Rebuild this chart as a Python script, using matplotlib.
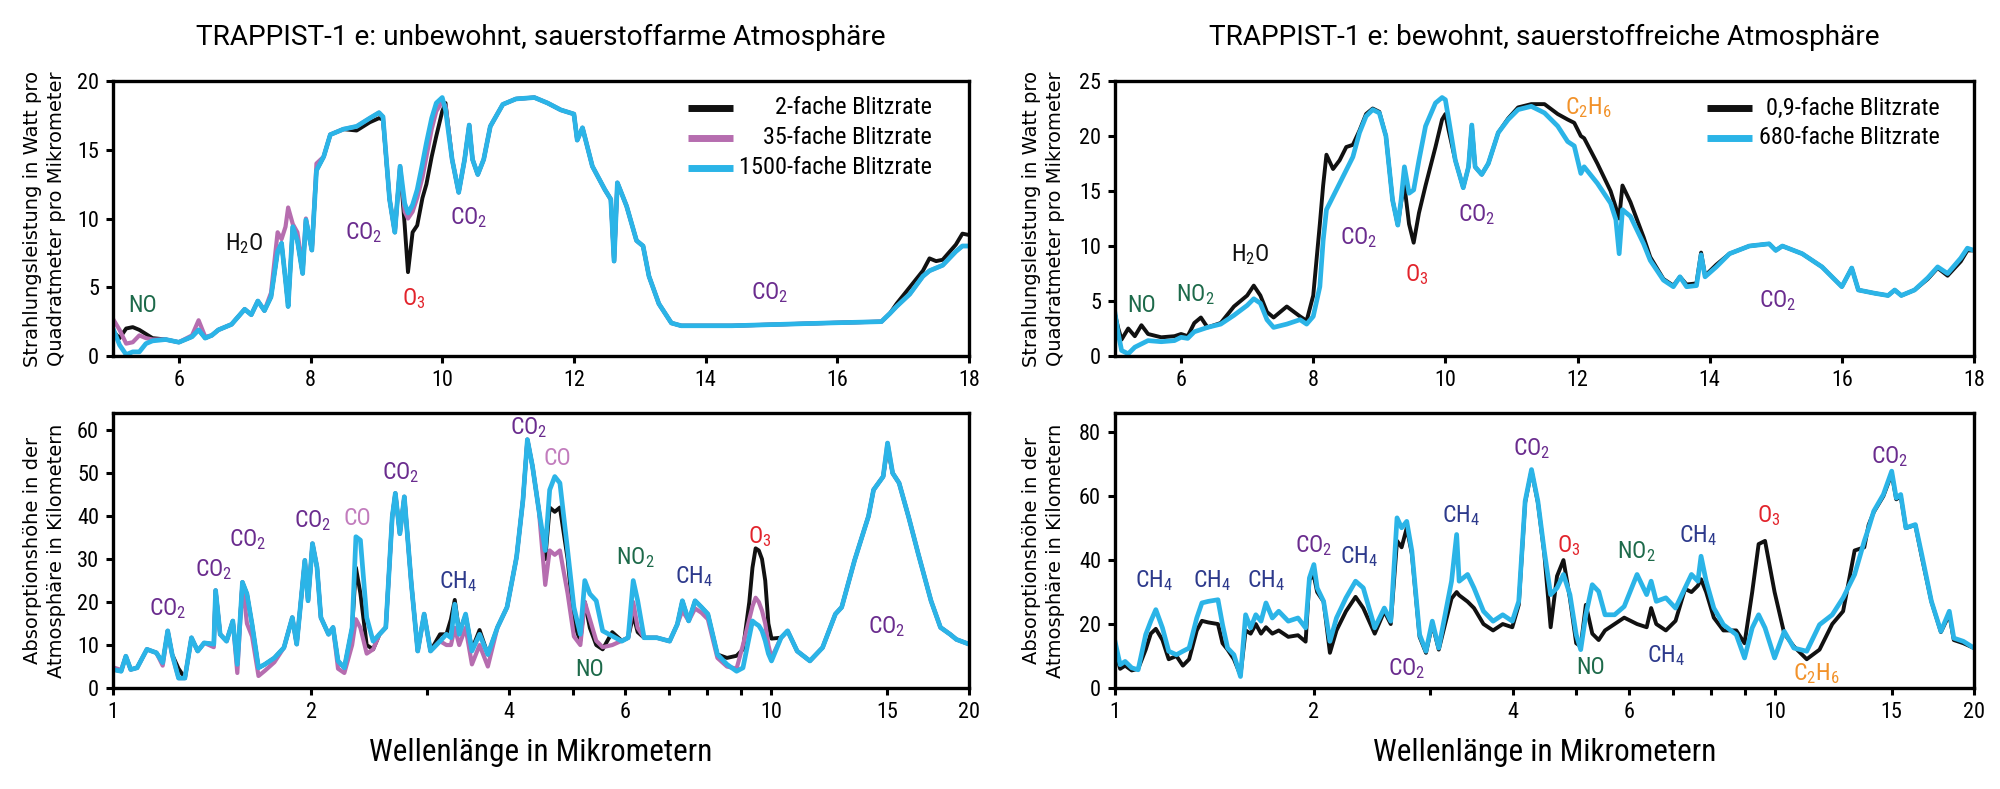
import matplotlib
matplotlib.use('Agg')
import matplotlib.pyplot as plt
from matplotlib.lines import Line2D
from matplotlib.ticker import NullFormatter

NARROW = ['Roboto Condensed', 'Liberation Sans Narrow', 'Roboto', 'DejaVu Sans']
plt.rcParams['font.family'] = NARROW
plt.rcParams['mathtext.default'] = 'regular'

BLACK = '#111111'
PINK = '#B66DAF'
BLUE = '#2BB4E7'
C_CO2 = '#6A2C8E'
C_O3 = '#E2232B'
C_NO = '#1D6A4A'
C_CH4 = '#2D3A8C'
C_C2H6 = '#F2922A'
C_CO = '#C27CBD'
C_H2O = '#111111'

# ---------------- top left: unbewohnt, emission 5-18 um
wl_tl = [5.0, 5.1, 5.2, 5.3, 5.4, 5.5, 5.6, 5.8, 6.0, 6.2,
         6.3, 6.4, 6.5, 6.6, 6.8, 7.0, 7.1, 7.2, 7.3, 7.4,
         7.5, 7.56, 7.62, 7.66, 7.73, 7.8, 7.88, 7.93, 8.02, 8.09,
         8.2, 8.3, 8.5, 8.7, 8.9, 9.04, 9.1, 9.2, 9.28, 9.36,
         9.43, 9.48, 9.55, 9.62, 9.7, 9.76, 9.84, 9.91, 10.0, 10.05,
         10.15, 10.25, 10.34, 10.41, 10.46, 10.54, 10.63, 10.73, 10.92, 11.12,
         11.4, 11.6, 11.8, 12.0, 12.05, 12.13, 12.28, 12.47, 12.56, 12.61,
         12.66, 12.8, 12.95, 13.05, 13.14, 13.29, 13.48, 13.63, 14.4, 15.85,
         16.67, 16.8, 16.9, 17.1, 17.3, 17.4, 17.5, 17.6, 17.8, 17.9,
         18.0]
em_tl_1500 = [2.0, 0.8, 0.1, 0.3, 0.3, 0.9, 1.1, 1.2, 1.0, 1.4,
              1.9, 1.3, 1.5, 1.9, 2.3, 3.4, 3.0, 4.0, 3.3, 4.3,
              7.6, 8.2, 5.5, 3.6, 9.4, 8.4, 6.0, 9.9, 7.7, 13.5,
              14.5, 16.1, 16.5, 16.7, 17.3, 17.7, 17.4, 11.4, 9.0, 13.8,
              11.1, 10.4, 11.0, 12.1, 14.0, 15.5, 17.3, 18.4, 18.8, 17.9,
              14.3, 11.9, 14.3, 16.8, 14.3, 13.2, 14.3, 16.7, 18.3, 18.7,
              18.8, 18.4, 17.9, 17.6, 15.7, 16.6, 13.8, 12.1, 11.4, 6.9,
              12.6, 10.9, 8.4, 8.0, 5.8, 3.8, 2.4, 2.2, 2.2, 2.4,
              2.5, 3.1, 3.6, 4.5, 5.8, 6.2, 6.4, 6.6, 7.6, 8.0,
              8.0]
em_tl_2 = [1.8, 1.3, 2.0, 2.1, 1.9, 1.6, 1.3, 1.2, 1.0, 1.4,
           1.9, 1.3, 1.5, 1.9, 2.3, 3.4, 3.0, 4.0, 3.3, 4.3,
           7.6, 8.2, 5.5, 3.6, 9.4, 8.4, 6.0, 9.9, 7.7, 13.5,
           14.5, 16.1, 16.5, 16.4, 17.0, 17.3, 17.2, 11.4, 9.0, 13.8,
           9.5, 6.1, 9.0, 9.5, 11.5, 12.5, 14.5, 16.0, 17.8, 18.4,
           14.3, 11.9, 14.3, 16.8, 14.3, 13.2, 14.3, 16.7, 18.3, 18.7,
           18.8, 18.4, 17.9, 17.6, 15.7, 16.6, 13.8, 12.1, 11.4, 6.9,
           12.6, 10.9, 8.4, 8.0, 5.8, 3.8, 2.4, 2.2, 2.2, 2.4,
           2.5, 3.1, 3.8, 5.0, 6.2, 7.1, 6.9, 7.0, 8.1, 8.9,
           8.8]
em_tl_35 = [2.7, 1.9, 0.9, 1.0, 1.5, 1.3, 1.2, 1.2, 1.0, 1.5,
            2.6, 1.4, 1.5, 1.9, 2.3, 3.4, 3.0, 4.0, 3.3, 4.6,
            9.0, 8.5, 9.4, 10.8, 9.6, 9.0, 6.5, 10.0, 7.7, 14.0,
            14.5, 16.1, 16.5, 16.7, 17.3, 17.7, 17.4, 11.4, 9.0, 13.8,
            10.5, 10.0, 10.5, 11.5, 13.0, 14.5, 16.5, 17.8, 18.5, 18.2,
            14.3, 11.9, 14.3, 16.8, 14.3, 13.2, 14.3, 16.7, 18.3, 18.7,
            18.8, 18.4, 17.9, 17.6, 15.7, 16.6, 13.8, 12.1, 11.4, 6.9,
            12.6, 10.9, 8.4, 8.0, 5.8, 3.8, 2.4, 2.2, 2.2, 2.4,
            2.5, 3.1, 3.6, 4.5, 5.8, 6.2, 6.4, 6.6, 7.6, 8.0,
            8.0]

# ---------------- top right: bewohnt, emission 5-18 um
wl_tr = [5.0, 5.05, 5.1, 5.2, 5.3, 5.4, 5.5, 5.7, 5.9, 6.0,
         6.1, 6.2, 6.3, 6.4, 6.6, 6.8, 7.0, 7.1, 7.2, 7.3,
         7.4, 7.6, 7.8, 7.9, 8.0, 8.1, 8.15, 8.2, 8.3, 8.4,
         8.5, 8.6, 8.7, 8.8, 8.9, 9.0, 9.1, 9.2, 9.28, 9.33,
         9.38, 9.45, 9.52, 9.6, 9.7, 9.85, 9.95, 10.0, 10.05, 10.15,
         10.27, 10.35, 10.4, 10.45, 10.55, 10.65, 10.8, 10.95, 11.1, 11.3,
         11.5, 11.7, 11.85, 11.95, 12.05, 12.1, 12.3, 12.5, 12.58, 12.63,
         12.68, 12.8, 13.0, 13.1, 13.3, 13.45, 13.55, 13.65, 13.8, 13.87,
         13.93, 14.1, 14.3, 14.6, 14.9, 15.0, 15.1, 15.4, 15.7, 16.0,
         16.15, 16.25, 16.5, 16.7, 16.8, 16.9, 17.1, 17.3, 17.45, 17.6,
         17.8, 17.9, 18.0]
em_tr_680 = [3.9, 2.0, 0.5, 0.2, 0.8, 1.1, 1.4, 1.3, 1.4, 1.7,
             1.6, 2.2, 2.4, 2.6, 2.9, 3.7, 4.6, 5.2, 4.8, 3.3,
             2.6, 2.9, 3.3, 2.9, 3.6, 6.3, 10.5, 13.3, 14.5, 15.7,
             16.9, 18.1, 20.3, 21.8, 22.4, 22.1, 20.0, 14.2, 11.9, 14.2,
             17.2, 14.8, 15.1, 17.8, 20.9, 23.0, 23.5, 23.3, 21.5, 17.8,
             15.3, 17.2, 21.0, 17.2, 16.5, 17.5, 20.3, 21.5, 22.4, 22.7,
             22.1, 20.9, 19.5, 19.1, 16.6, 17.2, 15.7, 13.9, 12.4, 9.3,
             13.3, 12.7, 10.2, 8.7, 6.9, 6.3, 7.2, 6.3, 6.4, 9.2,
             7.2, 8.1, 9.3, 10.0, 10.2, 9.6, 10.0, 9.3, 8.1, 6.3,
             8.0, 6.0, 5.7, 5.5, 6.0, 5.5, 6.0, 7.1, 8.1, 7.5,
             8.9, 9.8, 9.6]
em_tr_09 = [3.8, 2.5, 1.5, 2.5, 1.8, 2.8, 2.0, 1.7, 1.8, 2.0,
            1.8, 3.0, 3.5, 2.6, 3.0, 4.5, 5.5, 6.4, 5.5, 4.0,
            3.5, 4.5, 3.6, 3.2, 5.5, 12.0, 15.5, 18.3, 17.0, 17.8,
            19.0, 19.2, 20.5, 22.0, 22.5, 22.2, 20.0, 14.2, 11.9, 14.0,
            15.5, 12.0, 10.3, 13.0, 15.5, 19.0, 21.5, 22.0, 20.5, 17.8,
            15.3, 17.2, 21.0, 17.2, 16.5, 17.5, 20.3, 21.6, 22.6, 22.9,
            22.9, 22.0, 21.5, 21.2, 20.0, 19.8, 17.5, 15.0, 13.5, 12.5,
            15.5, 14.0, 10.8, 9.0, 7.0, 6.4, 7.2, 6.5, 6.6, 9.4,
            7.3, 8.3, 9.3, 10.0, 10.2, 9.6, 10.0, 9.3, 8.1, 6.3,
            8.0, 6.0, 5.7, 5.5, 6.0, 5.5, 6.0, 7.0, 8.0, 7.3,
            8.6, 9.6, 9.6]

# ---------------- bottom left: unbewohnt, absorption height 1-20 um
wl_bl = [1.000, 1.029, 1.046, 1.064, 1.088, 1.126, 1.164, 1.190, 1.211, 1.230,
         1.258, 1.286, 1.316, 1.345, 1.376, 1.423, 1.432, 1.455, 1.488, 1.521,
         1.545, 1.573, 1.598, 1.627, 1.664, 1.701, 1.759, 1.819, 1.873, 1.902,
         1.957, 1.979, 2.010, 2.042, 2.070, 2.126, 2.160, 2.198, 2.247, 2.309,
         2.340, 2.377, 2.430, 2.485, 2.541, 2.598, 2.657, 2.686, 2.729, 2.772,
         2.841, 2.905, 2.971, 3.038, 3.141, 3.212, 3.263, 3.307, 3.359, 3.435,
         3.512, 3.607, 3.713, 3.840, 3.971, 4.106, 4.199, 4.264, 4.341, 4.439,
         4.539, 4.610, 4.693, 4.778, 4.909, 5.018, 5.132, 5.213, 5.306, 5.426,
         5.549, 5.738, 5.933, 6.067, 6.176, 6.273, 6.415, 6.708, 7.015, 7.205,
         7.335, 7.499, 7.669, 7.843, 8.020, 8.292, 8.574, 8.867, 9.067, 9.270,
         9.374, 9.478, 9.585, 9.692, 9.802, 9.911, 10.02, 10.36, 10.60, 10.96,
         11.46, 11.98, 12.53, 12.81, 13.40, 13.85, 14.07, 14.32, 14.81, 15.04,
         15.31, 15.66, 16.19, 16.74, 17.51, 18.10, 18.72, 19.14, 20.00]
h_bl_1500 = [4.3, 3.9, 7.4, 4.3, 4.7, 9.0, 8.2, 5.9, 13.3, 7.8,
             2.3, 2.3, 11.7, 8.6, 10.5, 10.2, 22.7, 12.5, 10.9, 15.6,
             5.5, 24.6, 21.9, 14.8, 4.7, 5.5, 7.0, 9.4, 16.4, 10.2,
             29.7, 20.3, 33.6, 28.1, 16.4, 12.5, 14.1, 6.3, 4.7, 14.1,
             35.2, 34.4, 16.4, 10.9, 12.5, 14.1, 39.8, 45.3, 35.9, 44.5,
             24.2, 8.6, 17.2, 8.6, 10.9, 12.5, 11.7, 19.5, 12.5, 17.2,
             8.6, 12.5, 7.8, 14.1, 18.8, 30.5, 43.8, 57.8, 51.6, 41.4,
             32.0, 46.1, 49.2, 47.7, 32.0, 18.8, 12.5, 25.0, 21.9, 20.3,
             13.3, 12.1, 10.9, 11.7, 25.0, 20.3, 11.7, 11.7, 10.9, 14.8,
             20.3, 15.6, 20.3, 18.8, 17.2, 7.8, 5.5, 3.9, 4.7, 12.0,
             15.6, 15.0, 14.5, 13.3, 11.0, 8.0, 6.3, 11.7, 13.3, 8.6,
             6.3, 9.4, 17.2, 18.8, 29.7, 36.7, 40.0, 46.1, 49.2, 57.0,
             50.0, 47.7, 39.8, 31.3, 20.3, 14.1, 12.5, 11.3, 10.2]
h_bl_2 = [4.3, 3.9, 7.4, 4.3, 4.7, 9.0, 8.2, 5.9, 13.3, 7.8,
          4.5, 2.3, 11.7, 8.6, 10.5, 10.2, 22.7, 12.5, 10.9, 15.6,
          5.5, 24.6, 21.9, 14.8, 4.7, 5.5, 7.0, 9.4, 16.4, 10.2,
          29.7, 20.3, 33.6, 28.1, 16.4, 12.5, 14.1, 6.3, 4.7, 14.0,
          28.0, 22.0, 10.0, 9.0, 12.5, 14.1, 39.8, 45.3, 35.9, 44.5,
          24.2, 8.6, 17.2, 8.6, 12.5, 12.5, 16.0, 20.5, 13.0, 17.0,
          9.0, 13.5, 7.8, 14.1, 18.8, 30.5, 43.8, 57.8, 51.6, 41.4,
          30.0, 42.0, 41.0, 42.0, 30.0, 15.0, 11.0, 20.0, 14.0, 10.0,
          9.0, 13.0, 11.0, 11.7, 17.0, 13.0, 11.7, 11.7, 10.9, 14.8,
          20.3, 15.6, 20.3, 18.8, 17.2, 7.8, 7.0, 7.5, 9.0, 20.0,
          28.0, 32.5, 32.0, 30.0, 25.0, 15.0, 11.5, 11.7, 13.3, 8.6,
          6.3, 9.4, 17.2, 18.8, 29.7, 36.7, 40.0, 46.1, 49.2, 56.0,
          50.0, 47.7, 39.8, 31.3, 20.3, 14.1, 12.5, 11.3, 10.2]
h_bl_35 = [4.8, 4.2, 7.4, 4.3, 4.7, 9.0, 8.2, 5.2, 13.3, 7.8,
           2.3, 2.3, 11.7, 8.6, 10.5, 9.5, 22.7, 12.5, 10.9, 15.6,
           3.5, 24.6, 15.0, 12.0, 2.8, 4.0, 6.0, 9.4, 16.4, 10.2,
           29.7, 20.3, 33.6, 28.1, 16.4, 12.5, 14.1, 4.5, 3.5, 10.0,
           16.0, 14.0, 8.0, 9.0, 12.5, 14.1, 39.8, 45.3, 35.9, 44.5,
           24.2, 8.6, 17.2, 8.6, 10.9, 10.0, 10.0, 14.0, 10.0, 14.0,
           5.5, 10.0, 5.0, 14.1, 18.8, 30.5, 43.8, 57.8, 51.6, 41.4,
           24.0, 32.0, 31.0, 32.0, 22.0, 12.0, 10.0, 20.0, 16.0, 11.0,
           9.5, 10.0, 11.0, 11.7, 20.0, 14.0, 11.7, 11.7, 10.9, 14.8,
           18.0, 15.6, 18.5, 17.5, 16.0, 7.0, 5.0, 4.5, 10.0, 16.0,
           19.0, 21.0, 20.0, 18.0, 15.0, 10.0, 7.0, 11.7, 13.3, 8.6,
           6.3, 9.4, 17.2, 18.8, 29.7, 36.7, 40.0, 46.1, 49.2, 57.0,
           50.0, 47.7, 39.8, 31.3, 20.3, 14.1, 12.5, 11.3, 10.2]

# ---------------- bottom right: bewohnt, absorption height 1-20 um
wl_br = [1.000, 1.018, 1.036, 1.060, 1.084, 1.113, 1.133, 1.153, 1.180, 1.206,
         1.239, 1.267, 1.295, 1.330, 1.354, 1.385, 1.432, 1.455, 1.481, 1.514,
         1.549, 1.577, 1.605, 1.634, 1.664, 1.693, 1.731, 1.770, 1.830, 1.893,
         1.944, 1.970, 2.001, 2.024, 2.070, 2.116, 2.165, 2.238, 2.314, 2.377,
         2.474, 2.558, 2.616, 2.674, 2.717, 2.766, 2.816, 2.893, 2.958, 3.024,
         3.093, 3.162, 3.234, 3.292, 3.321, 3.420, 3.497, 3.615, 3.738, 3.866,
         3.997, 4.088, 4.180, 4.274, 4.370, 4.469, 4.569, 4.672, 4.778, 4.887,
         4.995, 5.074, 5.166, 5.283, 5.402, 5.523, 5.711, 5.905, 6.176, 6.386,
         6.487, 6.604, 6.829, 7.063, 7.302, 7.467, 7.635, 7.720, 7.859, 8.072,
         8.346, 8.728, 8.985, 9.228, 9.437, 9.650, 9.977, 10.32, 10.67, 11.16,
         11.67, 12.20, 12.67, 13.19, 13.64, 13.85, 14.10, 14.58, 15.01, 15.25,
         15.49, 15.77, 16.30, 16.67, 17.24, 17.82, 18.35, 18.64, 19.27, 20.00]
h_br_680 = [14.6, 7.3, 8.3, 6.3, 5.7, 16.7, 20.9, 24.5, 18.8, 11.5,
            10.4, 11.5, 12.5, 21.9, 26.6, 27.1, 27.6, 19.8, 12.5, 10.4,
            3.6, 22.9, 18.8, 22.9, 20.9, 26.6, 21.9, 24.0, 20.9, 21.9,
            18.8, 34.4, 38.6, 31.3, 27.1, 14.6, 21.9, 28.2, 33.4, 31.3,
            18.8, 25.0, 20.9, 53.2, 50.1, 52.1, 42.8, 16.7, 11.5, 20.9,
            12.5, 22.9, 33.4, 48.0, 33.4, 35.5, 31.3, 24.0, 20.9, 22.9,
            20.9, 27.1, 58.4, 68.3, 58.4, 42.8, 29.2, 31.3, 35.5, 29.2,
            16.7, 12.0, 22.9, 32.3, 30.2, 22.9, 22.9, 25.5, 35.5, 29.2,
            33.4, 27.1, 28.2, 25.0, 31.3, 35.5, 33.4, 41.2, 33.4, 25.0,
            19.8, 16.7, 9.4, 18.8, 22.9, 18.8, 9.4, 17.7, 12.5, 11.5,
            19.8, 22.9, 28.2, 35.5, 45.9, 50.0, 55.3, 60.5, 67.8, 59.4,
            60.5, 50.1, 51.1, 41.7, 27.1, 17.7, 24.0, 15.6, 14.6, 12.5]
h_br_09 = [12.0, 6.0, 7.0, 5.5, 6.0, 12.0, 17.0, 18.5, 15.0, 9.0,
           10.0, 7.0, 9.0, 18.0, 21.0, 20.5, 20.0, 14.0, 12.0, 9.0,
           4.0, 18.0, 17.0, 20.0, 17.0, 19.0, 17.0, 18.0, 16.0, 16.5,
           14.5, 34.0, 35.0, 30.0, 27.0, 11.0, 18.0, 24.0, 28.5, 25.0,
           17.0, 24.0, 20.0, 46.0, 44.0, 50.0, 42.0, 16.0, 11.0, 20.0,
           12.0, 20.0, 28.0, 30.0, 29.0, 27.0, 25.0, 20.0, 18.0, 20.0,
           19.0, 26.0, 58.0, 68.0, 58.0, 42.0, 19.0, 35.0, 40.0, 28.0,
           14.0, 13.0, 26.0, 17.0, 15.0, 18.0, 20.0, 22.0, 20.0, 19.0,
           25.0, 20.0, 18.0, 21.0, 31.0, 30.0, 32.0, 34.0, 30.0, 22.0,
           18.0, 18.0, 14.0, 30.0, 45.0, 46.0, 30.0, 17.0, 13.0, 9.0,
           12.0, 20.0, 24.0, 43.0, 44.0, 51.0, 55.0, 60.0, 67.0, 59.0,
           60.0, 50.0, 51.0, 41.0, 27.0, 17.5, 23.0, 15.0, 14.0, 12.5]

# molecule labels: (text, wavelength, value, colour)
labels_tl = [('NO', 5.45, 3.7, C_NO), ('H$_2$O', 7.0, 8.2, C_H2O),
             ('CO$_2$', 8.8, 9.0, C_CO2), ('O$_3$', 9.57, 4.2, C_O3),
             ('CO$_2$', 10.4, 10.1, C_CO2), ('CO$_2$', 14.98, 4.6, C_CO2)]
labels_tr = [('NO', 5.4, 4.6, C_NO), ('NO$_2$', 6.22, 5.6, C_NO),
             ('H$_2$O', 7.04, 9.2, C_H2O), ('CO$_2$', 8.69, 10.8, C_CO2),
             ('O$_3$', 9.56, 7.4, C_O3), ('CO$_2$', 10.48, 12.9, C_CO2),
             ('C$_2$H$_6$', 12.17, 22.6, C_C2H6), ('CO$_2$', 15.03, 5.0, C_CO2)]
labels_bl = [('CO$_2$', 1.21, 18.5, C_CO2), ('CO$_2$', 1.42, 27.5, C_CO2),
             ('CO$_2$', 1.60, 34.5, C_CO2), ('CO$_2$', 2.01, 39.0, C_CO2),
             ('CO', 2.35, 39.5, C_CO), ('CO$_2$', 2.74, 50.2, C_CO2),
             ('CH$_4$', 3.34, 24.8, C_CH4), ('CO$_2$', 4.29, 60.6, C_CO2),
             ('CO', 4.73, 53.5, C_CO), ('NO', 5.30, 4.3, C_NO),
             ('NO$_2$', 6.23, 30.3, C_NO), ('CH$_4$', 7.63, 26.0, C_CH4),
             ('O$_3$', 9.63, 35.3, C_O3), ('CO$_2$', 14.97, 14.3, C_CO2)]
labels_br = [('CH$_4$', 1.146, 33.7, C_CH4), ('CH$_4$', 1.40, 33.7, C_CH4),
             ('CH$_4$', 1.69, 33.7, C_CH4), ('CO$_2$', 2.00, 44.6, C_CO2),
             ('CH$_4$', 2.34, 41.0, C_CH4), ('CO$_2$', 2.77, 6.1, C_CO2),
             ('CH$_4$', 3.34, 54.0, C_CH4), ('CO$_2$', 4.27, 74.9, C_CO2),
             ('O$_3$', 4.86, 44.6, C_O3), ('NO', 5.26, 6.3, C_NO),
             ('NO$_2$', 6.17, 42.6, C_NO), ('CH$_4$', 7.63, 47.8, C_CH4),
             ('CH$_4$', 6.83, 10.2, C_CH4), ('O$_3$', 9.76, 54.0, C_O3),
             ('C$_2$H$_6$', 11.53, 4.5, C_C2H6), ('CO$_2$', 14.91, 72.3, C_CO2)]

legend_tl = ['2-fache Blitzrate', '35-fache Blitzrate', '1500-fache Blitzrate']
legend_tr = ['0,9-fache Blitzrate', '680-fache Blitzrate']

fig = plt.figure(figsize=(20, 7.89), dpi=100)
ax_tl = fig.add_axes([0.0565, 0.5488, 0.428, 0.3485])
ax_bl = fig.add_axes([0.0565, 0.1280, 0.428, 0.3486])
ax_tr = fig.add_axes([0.5575, 0.5488, 0.4295, 0.3485])
ax_br = fig.add_axes([0.5575, 0.1280, 0.4295, 0.3486])


def frame(ax):
    for s in ax.spines.values():
        s.set_linewidth(2.4)
    ax.tick_params(which='both', direction='out', length=5, width=2.2,
                   labelsize=16, pad=5)


def put_labels(ax, items):
    for txt, x, y, c in items:
        ax.text(x, y, txt, color=c, fontsize=17, ha='center', va='center')


def put_legend(ax, names, colors, x0, x1, xt):
    for i, (name, c) in enumerate(zip(names, colors)):
        yy = 0.902 - i * 0.109
        ax.add_line(Line2D([x0, x1], [yy, yy], transform=ax.transAxes,
                           color=c, lw=5, solid_capstyle='butt'))
        ax.text(xt, yy, name, transform=ax.transAxes, ha='right', va='center',
                fontsize=17.5)


LW_BLACK, LW_PINK, LW_BLUE = 2.8, 3.0, 3.4

# top left
ax_tl.plot(wl_tl, em_tl_2, color=BLACK, lw=LW_BLACK)
ax_tl.plot(wl_tl, em_tl_35, color=PINK, lw=LW_PINK)
ax_tl.plot(wl_tl, em_tl_1500, color=BLUE, lw=LW_BLUE)
ax_tl.set_xlim(5, 18)
ax_tl.set_ylim(0, 20)
ax_tl.set_xticks([6, 8, 10, 12, 14, 16, 18])
ax_tl.set_yticks([0, 5, 10, 15, 20])
put_labels(ax_tl, labels_tl)
put_legend(ax_tl, legend_tl, [BLACK, PINK, BLUE], 0.672, 0.724, 0.957)

# top right
ax_tr.plot(wl_tr, em_tr_09, color=BLACK, lw=LW_BLACK)
ax_tr.plot(wl_tr, em_tr_680, color=BLUE, lw=LW_BLUE)
ax_tr.set_xlim(5, 18)
ax_tr.set_ylim(0, 25)
ax_tr.set_xticks([6, 8, 10, 12, 14, 16, 18])
ax_tr.set_yticks([0, 5, 10, 15, 20, 25])
put_labels(ax_tr, labels_tr)
put_legend(ax_tr, legend_tr, [BLACK, BLUE], 0.689, 0.742, 0.960)

# bottom left
ax_bl.plot(wl_bl, h_bl_2, color=BLACK, lw=LW_BLACK)
ax_bl.plot(wl_bl, h_bl_35, color=PINK, lw=LW_PINK)
ax_bl.plot(wl_bl, h_bl_1500, color=BLUE, lw=LW_BLUE)
ax_bl.set_ylim(0, 64)
ax_bl.set_yticks([0, 10, 20, 30, 40, 50, 60])
put_labels(ax_bl, labels_bl)

# bottom right
ax_br.plot(wl_br, h_br_09, color=BLACK, lw=LW_BLACK)
ax_br.plot(wl_br, h_br_680, color=BLUE, lw=LW_BLUE)
ax_br.set_ylim(0, 86)
ax_br.set_yticks([0, 20, 40, 60, 80])
put_labels(ax_br, labels_br)

for ax in (ax_bl, ax_br):
    ax.set_xscale('log')
    ax.set_xlim(1, 20)
    ax.set_xticks([1, 2, 4, 6, 10, 15, 20], labels=['1', '2', '4', '6', '10', '15', '20'])
    ax.set_xticks([3, 5, 7, 8, 9], minor=True)
    ax.xaxis.set_minor_formatter(NullFormatter())
    ax.set_xlabel('Wellenlänge in Mikrometern', fontsize=22.5, va='center')
    ax.xaxis.set_label_coords(0.5, -0.236)

ylab_kw = dict(fontsize=14, family='DejaVu Sans', va='center', linespacing=1.3)
ax_tl.set_ylabel('Strahlungsleistung in Watt pro\nQuadratmeter pro Mikrometer', **ylab_kw)
ax_tr.set_ylabel('Strahlungsleistung in Watt pro\nQuadratmeter pro Mikrometer', **ylab_kw)
ax_bl.set_ylabel('Absorptionshöhe in der\nAtmosphäre in Kilometern', **ylab_kw)
ax_br.set_ylabel('Absorptionshöhe in der\nAtmosphäre in Kilometern', **ylab_kw)
ax_tl.yaxis.set_label_coords(-0.080, 0.5)
ax_bl.yaxis.set_label_coords(-0.080, 0.5)
ax_tr.yaxis.set_label_coords(-0.083, 0.5)
ax_br.yaxis.set_label_coords(-0.083, 0.5)

for ax in (ax_tl, ax_tr, ax_bl, ax_br):
    frame(ax)

fig.text(0.2705, 0.952, 'TRAPPIST-1 e: unbewohnt, sauerstoffarme Atmosphäre',
         fontsize=20.2, family=['Roboto', 'DejaVu Sans'], ha='center', va='center')
fig.text(0.7723, 0.952, 'TRAPPIST-1 e: bewohnt, sauerstoffreiche Atmosphäre',
         fontsize=20.2, family=['Roboto', 'DejaVu Sans'], ha='center', va='center')

fig.savefig('out.png', dpi=100)
